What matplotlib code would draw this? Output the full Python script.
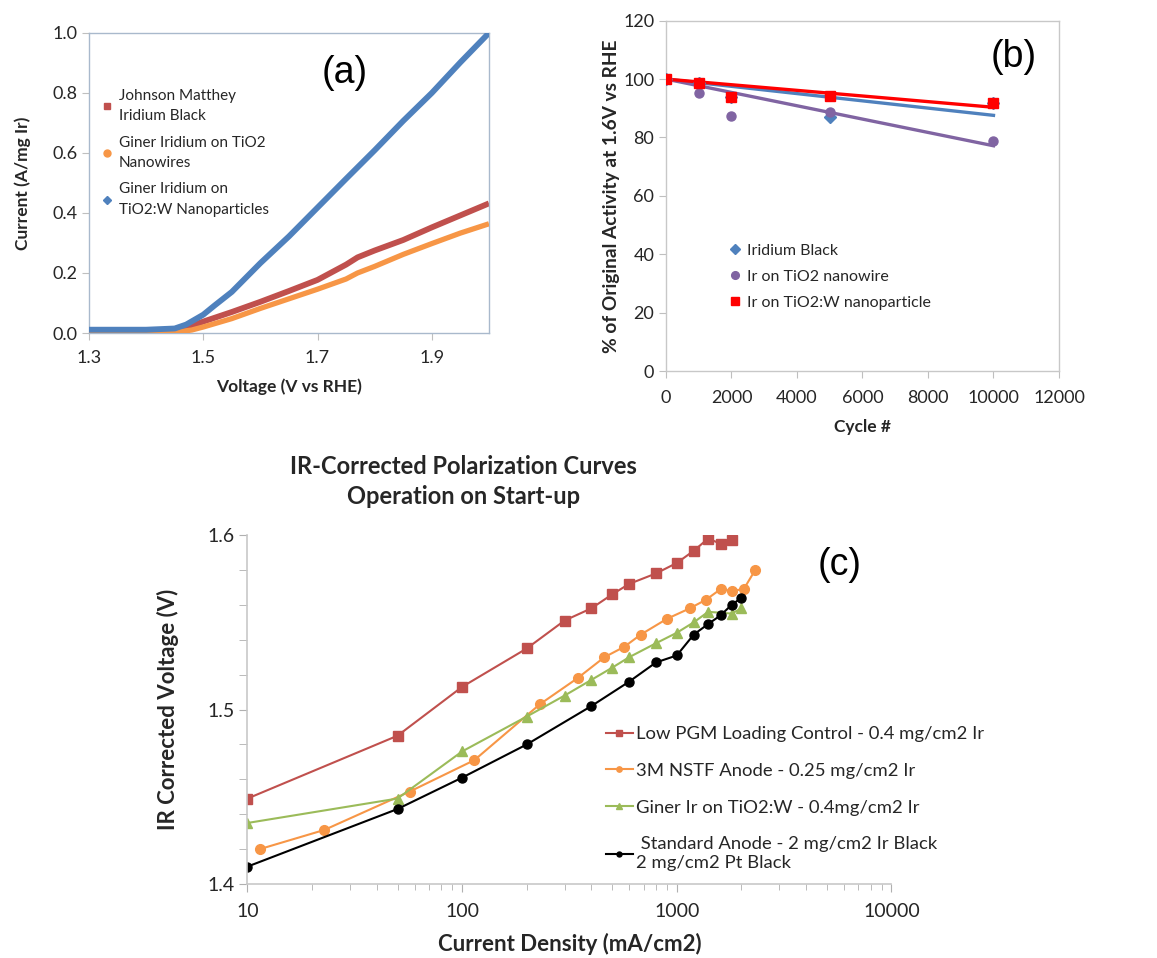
import matplotlib
matplotlib.use('Agg')
import matplotlib.pyplot as plt
import matplotlib.ticker as mticker
import numpy as np

plt.rcParams['font.family'] = ['Lato', 'DejaVu Sans']

# ---- panel (a): activity curves ----
v_jm = [1.30, 1.44, 1.47, 1.50, 1.55, 1.60, 1.65, 1.70, 1.75, 1.77, 1.80, 1.85, 1.90, 1.95, 2.00]
i_jm = [0.005, 0.006, 0.018, 0.038, 0.070, 0.104, 0.140, 0.177, 0.228, 0.252, 0.275, 0.310, 0.352, 0.392, 0.432]
v_nw = [1.30, 1.45, 1.48, 1.50, 1.55, 1.60, 1.65, 1.70, 1.75, 1.77, 1.80, 1.85, 1.90, 1.95, 2.00]
i_nw = [0.002, 0.002, 0.010, 0.020, 0.048, 0.082, 0.114, 0.146, 0.180, 0.200, 0.222, 0.262, 0.298, 0.333, 0.364]
v_np = [1.30, 1.40, 1.45, 1.47, 1.50, 1.52, 1.55, 1.60, 1.65, 1.70, 1.75, 1.80, 1.85, 1.90, 1.95, 2.00]
i_np = [0.011, 0.011, 0.015, 0.028, 0.061, 0.092, 0.137, 0.233, 0.322, 0.418, 0.514, 0.609, 0.707, 0.800, 0.902, 1.000]

# ---- panel (b): durability ----
cycles = [0, 1000, 2000, 5000, 10000]
act_black = [100, 98.5, 94.0, 87.0, 91.7]
act_nw = [100, 95.3, 87.4, 88.8, 78.9]
act_np = [100, 98.7, 93.9, 94.2, 91.7]

# ---- panel (c): polarization curves ----
j_ctrl = [10, 50, 100, 200, 300, 400, 500, 600, 800, 1000, 1200, 1400, 1600, 1800]
v_ctrl = [1.449, 1.485, 1.513, 1.535, 1.551, 1.558, 1.566, 1.572, 1.578, 1.584, 1.591, 1.598, 1.595, 1.597]
j_nstf = [11.4, 22.8, 57, 114, 230, 345, 460, 570, 680, 900, 1150, 1370, 1600, 1800, 2050, 2320]
v_nstf = [1.420, 1.431, 1.453, 1.471, 1.503, 1.518, 1.530, 1.536, 1.543, 1.552, 1.558, 1.563, 1.569, 1.568, 1.569, 1.580]
j_giner = [10, 50, 100, 200, 300, 400, 500, 600, 800, 1000, 1200, 1400, 1800, 2000]
v_giner = [1.435, 1.449, 1.476, 1.496, 1.508, 1.517, 1.524, 1.530, 1.538, 1.544, 1.550, 1.556, 1.555, 1.558]
j_std = [10, 50, 100, 200, 400, 600, 800, 1000, 1200, 1400, 1600, 1800, 2000]
v_std = [1.410, 1.443, 1.461, 1.480, 1.502, 1.516, 1.527, 1.531, 1.543, 1.549, 1.554, 1.560, 1.564]

TXT = '#262626'
GRID = '#BFBFBF'

fig = plt.figure(figsize=(11.57, 9.58), dpi=100)

# ================= (a) =================
ax_a = fig.add_axes([0.0769, 0.6524, 0.3457, 0.3132])
ax_a.plot(v_jm, i_jm, color='#C0504D', lw=4.2, solid_capstyle='butt', zorder=2)
ax_a.plot(v_nw, i_nw, color='#F79646', lw=3.8, solid_capstyle='butt', zorder=3)
ax_a.plot(v_np, i_np, color='#4F81BD', lw=4.2, solid_capstyle='butt', zorder=4)
ax_a.set_xlim(1.3, 2.0)
ax_a.set_ylim(0, 1.0)
ax_a.set_xticks([1.3, 1.5, 1.7, 1.9])
ax_a.set_yticks(np.arange(0, 1.01, 0.2))
ax_a.yaxis.set_major_formatter(mticker.FormatStrFormatter('%.1f'))
ax_a.xaxis.set_major_formatter(mticker.FormatStrFormatter('%.1f'))
for s in ax_a.spines.values():
    s.set_color('#A9B9CC')
    s.set_linewidth(1.0)
ax_a.tick_params(colors=GRID, labelcolor=TXT, labelsize=13, direction='out', length=5)
ax_a.tick_params(axis='x', pad=7)
ax_a.set_ylabel('Current (A/mg Ir)', fontsize=12.5, fontweight='bold', color=TXT, labelpad=15)
ax_a.set_xlabel('Voltage (V vs RHE)', fontsize=12.5, fontweight='bold', color=TXT, labelpad=9)
h_a = [
    plt.Line2D([], [], ls='none', marker='s', ms=5, color='#C0504D'),
    plt.Line2D([], [], ls='none', marker='o', ms=5, color='#F79646'),
    plt.Line2D([], [], ls='none', marker='D', ms=4.5, color='#4F81BD'),
]
leg_a = ax_a.legend(h_a, ['Johnson Matthey\nIridium Black', 'Giner Iridium on TiO2\nNanowires',
                          'Giner Iridium on\nTiO2:W Nanoparticles'],
                    loc='upper left', bbox_to_anchor=(0.0, 0.86), frameon=False, fontsize=11,
                    handlelength=0.6, handletextpad=0.45, labelspacing=0.8, labelcolor=TXT)
for t in leg_a.get_texts():
    t.set_linespacing(1.6)
ax_a.text(0.64, 0.867, '(a)', transform=ax_a.transAxes, fontsize=27,
          family='Liberation Sans', ha='center', va='center', color='black')

# ================= (b) =================
ax_b = fig.add_axes([0.5756, 0.6127, 0.3397, 0.3657])
x_arr = np.array(cycles, dtype=float)
fit_x = np.array([0, 10000])
series_b = [
    (act_black, '#4F81BD', 'D', 6.5, 'Iridium Black'),
    (act_nw, '#8064A2', 'o', 6.5, 'Ir on TiO2 nanowire'),
    (act_np, '#FF0000', 's', 7, 'Ir on TiO2:W nanoparticle'),
]
for vals, col, mk, ms, lab in series_b:
    y_arr = np.array(vals)
    # linear trendline with intercept fixed at 100
    slope = np.sum(x_arr * (y_arr - 100)) / np.sum(x_arr ** 2)
    ax_b.plot(fit_x, 100 + slope * fit_x, color=col, lw=2.4, zorder=2)
for vals, col, mk, ms, lab in series_b:
    ax_b.plot(cycles, vals, ls='none', marker=mk, ms=ms, color=col, label=lab, zorder=3)
ax_b.set_xlim(0, 12000)
ax_b.set_ylim(0, 120)
ax_b.set_xticks(np.arange(0, 12001, 2000))
ax_b.set_yticks(np.arange(0, 121, 20))
for s in ax_b.spines.values():
    s.set_color('#C8C8C8')
    s.set_linewidth(1.0)
ax_b.tick_params(colors=GRID, labelcolor=TXT, labelsize=13, direction='out', length=5)
ax_b.tick_params(axis='x', pad=9)
ax_b.set_ylabel('% of Original Activity at 1.6V vs RHE', fontsize=13.8, fontweight='bold',
                color=TXT, labelpad=2)
ax_b.set_xlabel('Cycle #', fontsize=12.5, fontweight='bold', color=TXT, labelpad=9)
ax_b.legend(loc='upper left', bbox_to_anchor=(0.128, 0.405), frameon=False, fontsize=11.5,
            handlelength=0.6, handletextpad=0.45, labelspacing=0.75, labelcolor=TXT,
            markerscale=0.85)
ax_b.text(0.885, 0.895, '(b)', transform=ax_b.transAxes, fontsize=27,
          family='Liberation Sans', ha='center', va='center', color='black')

# ================= (c) =================
ax_c = fig.add_axes([0.2139, 0.0772, 0.5566, 0.3643])
ax_c.plot(j_ctrl, v_ctrl, color='#C0504D', marker='s', ms=7, lw=1.5,
          label='Low PGM Loading Control - 0.4 mg/cm2 Ir')
ax_c.plot(j_nstf, v_nstf, color='#F79646', marker='o', ms=7, lw=1.5,
          label='3M NSTF Anode - 0.25 mg/cm2 Ir')
ax_c.plot(j_giner, v_giner, color='#9BBB59', marker='^', ms=7, lw=1.5,
          label='Giner Ir on TiO2:W - 0.4mg/cm2 Ir')
ax_c.plot(j_std, v_std, color='black', marker='o', ms=6.5, lw=1.5,
          label=' Standard Anode - 2 mg/cm2 Ir Black\n2 mg/cm2 Pt Black')
ax_c.set_xscale('log')
ax_c.set_xlim(10, 10000)
ax_c.set_ylim(1.4, 1.6)
ax_c.xaxis.set_major_locator(mticker.FixedLocator([10, 100, 1000, 10000]))
ax_c.xaxis.set_major_formatter(mticker.FuncFormatter(lambda v, p: f'{v:g}'))
ax_c.xaxis.set_minor_locator(mticker.LogLocator(base=10, subs=np.arange(2, 10)))
ax_c.xaxis.set_minor_formatter(mticker.NullFormatter())
ax_c.yaxis.set_major_locator(mticker.MultipleLocator(0.1))
ax_c.yaxis.set_minor_locator(mticker.MultipleLocator(0.02))
ax_c.yaxis.set_major_formatter(mticker.FormatStrFormatter('%.1f'))
ax_c.spines['top'].set_visible(False)
ax_c.spines['right'].set_visible(False)
for k in ('left', 'bottom'):
    ax_c.spines[k].set_color('#C8C8C8')
    ax_c.spines[k].set_linewidth(1.2)
ax_c.tick_params(which='both', colors='#B0B0B0', labelcolor=TXT, labelsize=14,
                 direction='out', length=6)
ax_c.tick_params(axis='x', which='minor', length=4)
ax_c.tick_params(axis='x', which='major', pad=8)
ax_c.set_ylabel('IR Corrected Voltage (V)', fontsize=16, fontweight='bold', color=TXT,
                labelpad=20)
ax_c.set_xlabel('Current Density (mA/cm2)', fontsize=16, fontweight='bold', color=TXT,
                labelpad=9)
ax_c.set_title('IR-Corrected Polarization Curves\nOperation on Start-up', fontsize=17,
               fontweight='bold', color=TXT, pad=22, x=0.335, linespacing=1.4)
leg_c = ax_c.legend(loc='upper left', bbox_to_anchor=(0.531, 0.50), frameon=False,
                    fontsize=13.3, handlelength=1.45, handletextpad=0.15, labelspacing=1.12,
                    labelcolor=TXT, markerscale=0.55)
for t in leg_c.get_texts():
    t.set_linespacing(1.25)
ax_c.text(0.92, 0.915, '(c)', transform=ax_c.transAxes, fontsize=27,
          family='Liberation Sans', ha='center', va='center', color='black')

fig.savefig('out.png', dpi=100, facecolor='white')
